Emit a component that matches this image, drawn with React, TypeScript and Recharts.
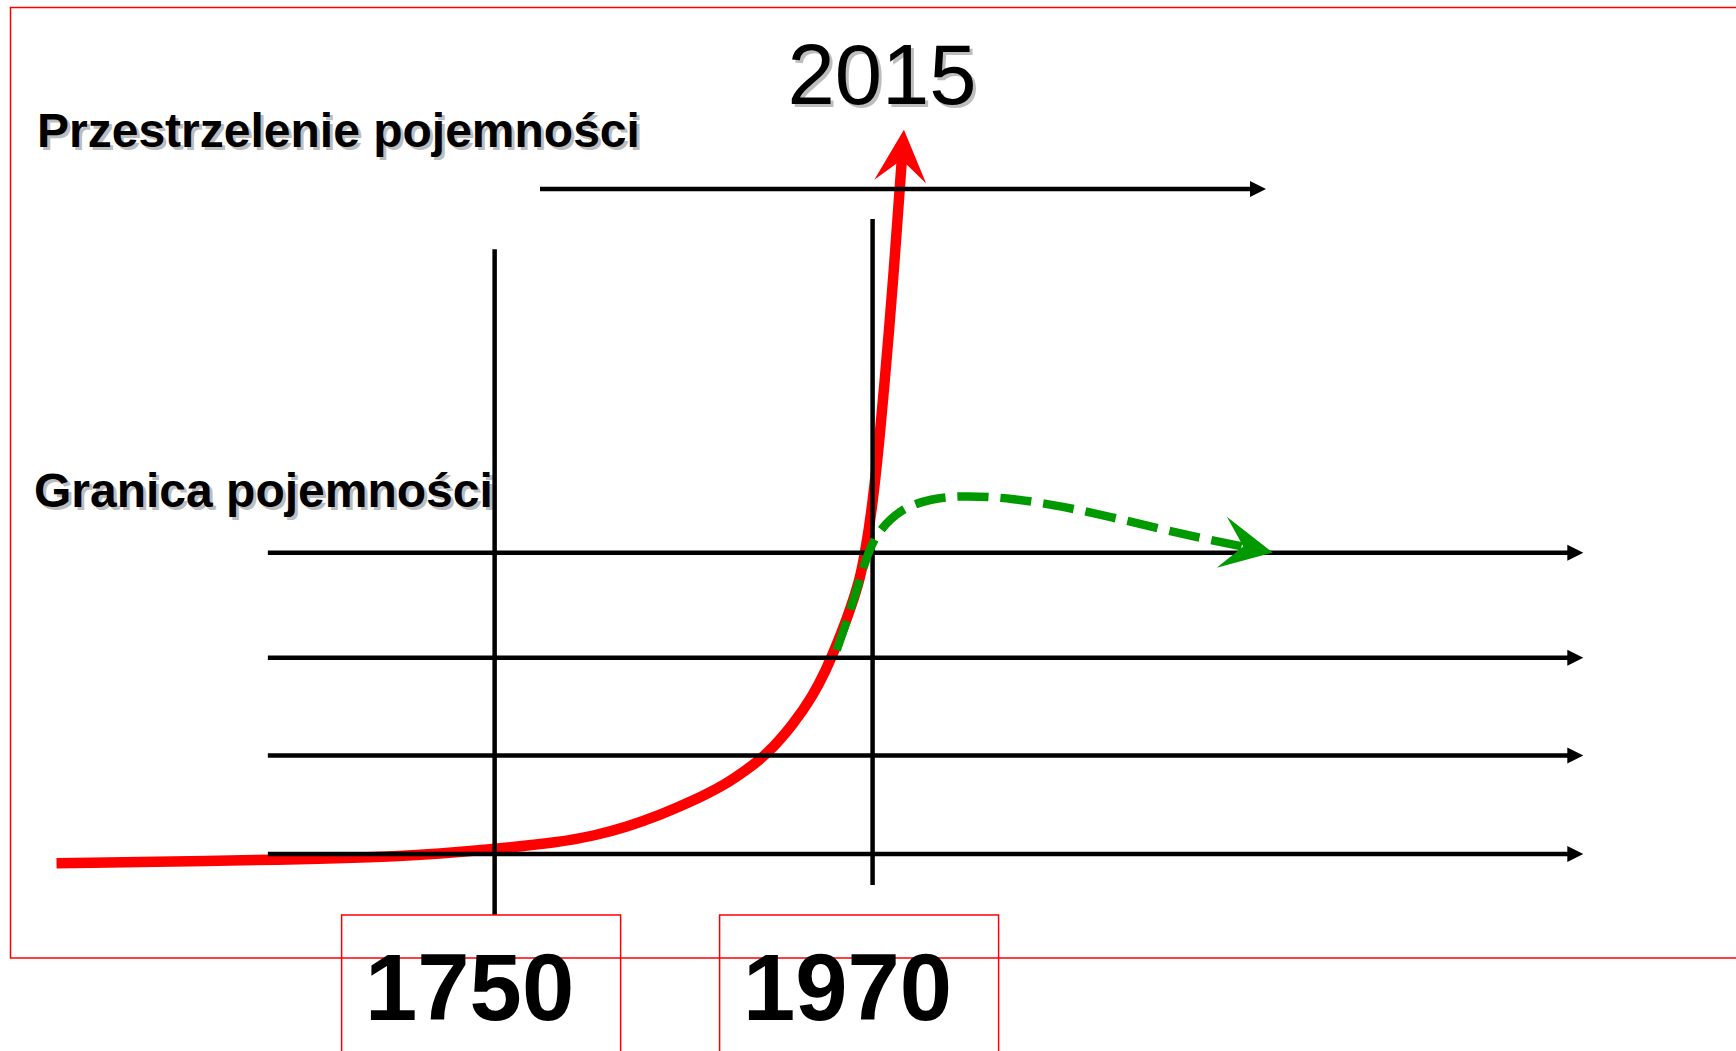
import React from 'react';
import {
  ComposedChart,
  Line,
  XAxis,
  YAxis,
  ReferenceLine,
  ReferenceDot,
  Customized,
} from 'recharts';

// ---------- data ----------
// x = year, y = load level (0 = lowest capacity line, 3 = "Granica pojemności")
const redYears = [1495, 1618, 1695, 1750, 1788, 1807.4, 1826.9, 1846.3, 1865.7, 1885.1, 1896.7, 1908.4, 1923.8, 1935.5, 1943.3, 1947.1, 1954.9, 1962.7, 1965.6, 1969.2, 1974.1, 1980.1, 1983.1, 1987.0];
const redLevels = [-0.09, -0.06, -0.03, 0.05, 0.12, 0.18, 0.27, 0.39, 0.53, 0.7, 0.84, 0.99, 1.29, 1.58, 1.85, 2.0, 2.33, 2.73, 3.0, 3.37, 4.12, 5.31, 5.98, 6.91];

const greenYears = [1949.1, 1957.9, 1967.5, 1974.3, 1986.0, 2003.4, 2024.8, 2051.7, 2080.8, 2110.0, 2139.1, 2168.2, 2185.8];
const greenLevels = [2.03, 2.46, 3.03, 3.23, 3.43, 3.54, 3.57, 3.54, 3.46, 3.35, 3.23, 3.12, 3.06];

const capacityLevels = [0, 0.98, 1.955, 3.0];
const capacityFrom = 1618;
const capacityTo = 2383.7;

const overshootLevel = 6.62;
const overshootFrom = 1776.4;
const overshootTo = 2199;

const yearMarks = [1750, 1970];
const yearMarkTop = [6.02, 6.32];
const yearMarkBottom = [-0.606, -0.307];
const yearBoxLevel = -0.606;

const topLabel = '2015';
const overshootLabel = 'Przestrzelenie pojemności';
const limitLabel = 'Granica pojemności';

// ---------- layout ----------
const W = 1736;
const H = 1051;
const MARGIN = { top: 0, right: 13, bottom: 6, left: 5 };
const X_DOMAIN: [number, number] = [1465, 2465];
const Y_DOMAIN: [number, number] = [-1.9, 8.5];
const PX_X = (W - MARGIN.left - MARGIN.right) / (X_DOMAIN[1] - X_DOMAIN[0]);
const PX_Y = (H - MARGIN.top - MARGIN.bottom) / (Y_DOMAIN[1] - Y_DOMAIN[0]);

const FONT = '"Liberation Sans", Arial, Helvetica, sans-serif';
const RED = '#ff0000';
const GREEN = '#009900';
const SHADOW = '#bdbdbd';

const redData = redYears.map((year, i) => ({ year, level: redLevels[i] }));
const greenData = greenYears.map((year, i) => ({ year, level: greenLevels[i] }));

const arrowHead = (tx: number, ty: number, ux: number, uy: number, L: number, Wd: number, N: number) => {
  const nx = -uy;
  const ny = ux;
  const p1 = `${tx},${ty}`;
  const p2 = `${tx - L * ux + Wd * nx},${ty - L * uy + Wd * ny}`;
  const p3 = `${tx - N * ux},${ty - N * uy}`;
  const p4 = `${tx - L * ux - Wd * nx},${ty - L * uy - Wd * ny}`;
  return `${p1} ${p2} ${p3} ${p4}`;
};

const makeArrowDot = (color: string, data: { year: number; level: number }[]) => (props: any) => {
  const { cx, cy, index, points } = props;
  const n = data.length;
  if (index !== n - 1 || cx == null || cy == null) return <g key={`d-${index}`} />;
  let dx: number;
  let dy: number;
  if (points && points[index - 1] && points[index - 1].x != null) {
    dx = cx - points[index - 1].x;
    dy = cy - points[index - 1].y;
  } else {
    dx = (data[n - 1].year - data[n - 2].year) * PX_X;
    dy = -(data[n - 1].level - data[n - 2].level) * PX_Y;
  }
  const len = Math.hypot(dx, dy) || 1;
  const ux = dx / len;
  const uy = dy / len;
  const N = 30;
  const tx = cx + N * ux;
  const ty = cy + N * uy;
  return <polygon key={`d-${index}`} points={arrowHead(tx, ty, ux, uy, 52, 26, N)} fill={color} stroke="none" />;
};

const BlackArrow = (props: any) => {
  const { x1, y1, x2, y2 } = props;
  return (
    <g>
      <line x1={x1} y1={y1} x2={x2 - 12} y2={y2} stroke="#000" strokeWidth={4.5} />
      <polygon points={`${x2},${y2} ${x2 - 16},${y2 - 8} ${x2 - 16},${y2 + 8}`} fill="#000" />
    </g>
  );
};

const PlainLine = (props: any) => {
  const { x1, y1, x2, y2 } = props;
  return <line x1={x1} y1={y1} x2={x2} y2={y2} stroke="#000" strokeWidth={4.5} />;
};

const makeYearBox = (label: string) => (props: any) => {
  const { cx, cy } = props;
  return (
    <g>
      <rect x={cx - 153} y={cy} width={279} height={200} fill="none" stroke={RED} strokeWidth={1.5} />
      <text
        x={cx - 25}
        y={cy + 105}
        textAnchor="middle"
        fontFamily={FONT}
        fontWeight="bold"
        fontSize={94}
        fill="#000"
      >
        {label}
      </text>
    </g>
  );
};

const ShadowText = ({ x, y, size, bold, anchor, children }: any) => (
  <g fontFamily={FONT} fontSize={size} fontWeight={bold ? 'bold' : 'normal'} textAnchor={anchor || 'start'}>
    <text x={x + 3} y={y + 3} fill={SHADOW}>
      {children}
    </text>
    <text x={x} y={y} fill="#000">
      {children}
    </text>
  </g>
);

const Decorations = () => (
  <g>
    <rect x={10.5} y={7.5} width={W + 20} height={950.5} fill="none" stroke={RED} strokeWidth={1.5} />
    <ShadowText x={882} y={104} size={85} anchor="middle">
      {topLabel}
    </ShadowText>
    <ShadowText x={37} y={147} size={48} bold>
      {overshootLabel}
    </ShadowText>
    <ShadowText x={34} y={507} size={48} bold>
      {limitLabel}
    </ShadowText>
  </g>
);

export default function App() {
  return (
    <div style={{ position: 'absolute', left: 0, top: 0, width: W, height: H, background: '#fff' }}>
      <ComposedChart width={W} height={H} margin={MARGIN}>
        <XAxis dataKey="year" type="number" domain={X_DOMAIN} allowDataOverflow hide />
        <YAxis dataKey="level" type="number" domain={Y_DOMAIN} allowDataOverflow hide />
        <Customized component={<Decorations />} />
        <Line
          data={redData}
          dataKey="level"
          type="basis"
          stroke={RED}
          strokeWidth={10.5}
          dot={makeArrowDot(RED, redData)}
          activeDot={false}
          isAnimationActive={false}
        />
        {capacityLevels.map((lv) => (
          <ReferenceLine
            key={`cap-${lv}`}
            segment={[
              { x: capacityFrom, y: lv },
              { x: capacityTo, y: lv },
            ]}
            shape={BlackArrow}
          />
        ))}
        <ReferenceLine
          segment={[
            { x: overshootFrom, y: overshootLevel },
            { x: overshootTo, y: overshootLevel },
          ]}
          shape={BlackArrow}
        />
        {yearMarks.map((yr, i) => (
          <ReferenceLine
            key={`yl-${yr}`}
            segment={[
              { x: yr, y: yearMarkBottom[i] },
              { x: yr, y: yearMarkTop[i] },
            ]}
            shape={PlainLine}
          />
        ))}
        {yearMarks.map((yr) => (
          <ReferenceDot key={`yb-${yr}`} x={yr} y={yearBoxLevel} r={1} shape={makeYearBox(String(yr))} />
        ))}
        <Line
          data={greenData}
          dataKey="level"
          type="basis"
          stroke={GREEN}
          strokeWidth={8.5}
          strokeDasharray="31 12"
          dot={makeArrowDot(GREEN, greenData)}
          activeDot={false}
          isAnimationActive={false}
        />
      </ComposedChart>
    </div>
  );
}
